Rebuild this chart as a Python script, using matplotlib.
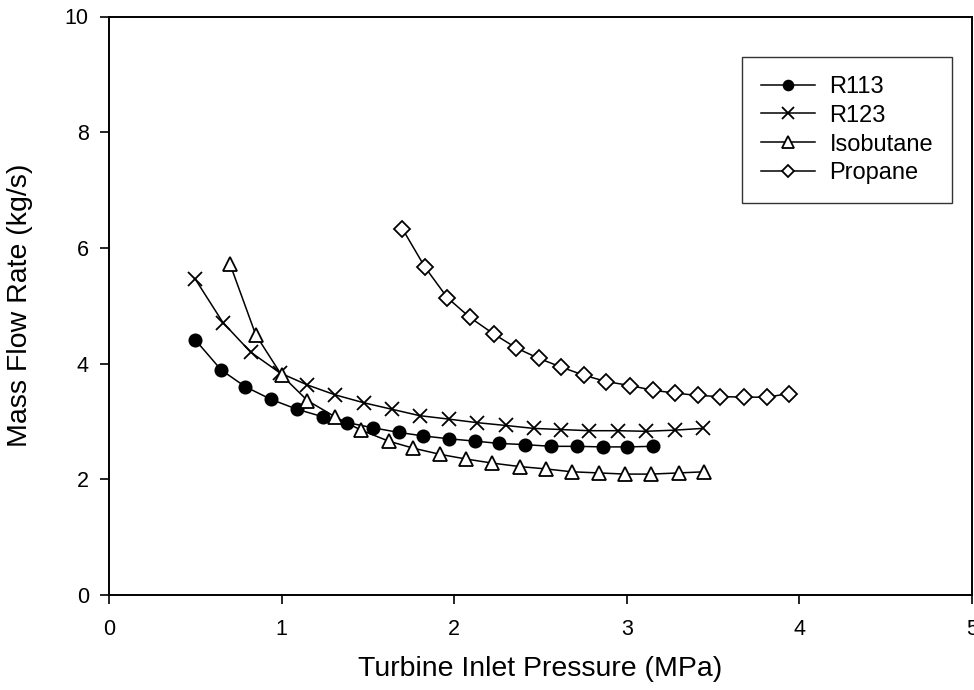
import matplotlib
matplotlib.use("Agg")
import matplotlib.pyplot as plt

# ---- data ----
r113_x = [0.50, 0.65, 0.79, 0.94, 1.09, 1.24, 1.38, 1.53, 1.68, 1.82,
          1.97, 2.12, 2.26, 2.41, 2.56, 2.71, 2.86, 3.00, 3.15]
r113_y = [4.41, 3.89, 3.60, 3.38, 3.21, 3.08, 2.98, 2.89, 2.81, 2.75,
          2.70, 2.66, 2.62, 2.60, 2.57, 2.57, 2.56, 2.56, 2.57]

r123_x = [0.50, 0.66, 0.82, 0.99, 1.15, 1.31, 1.48, 1.64, 1.80, 1.97,
          2.13, 2.30, 2.46, 2.62, 2.78, 2.95, 3.11, 3.28, 3.44]
r123_y = [5.46, 4.71, 4.20, 3.84, 3.63, 3.46, 3.32, 3.21, 3.10, 3.04,
          2.98, 2.93, 2.88, 2.86, 2.84, 2.84, 2.83, 2.85, 2.88]

iso_x = [0.70, 0.85, 1.00, 1.15, 1.31, 1.46, 1.62, 1.76, 1.92, 2.07,
         2.22, 2.38, 2.53, 2.68, 2.84, 2.99, 3.14, 3.30, 3.45]
iso_y = [5.73, 4.50, 3.80, 3.36, 3.08, 2.85, 2.66, 2.54, 2.43, 2.35,
         2.28, 2.22, 2.18, 2.13, 2.11, 2.09, 2.09, 2.11, 2.13]

prop_x = [1.70, 1.83, 1.96, 2.09, 2.23, 2.36, 2.49, 2.62, 2.75, 2.88,
          3.02, 3.15, 3.28, 3.41, 3.54, 3.68, 3.81, 3.94]
prop_y = [6.33, 5.67, 5.14, 4.80, 4.51, 4.27, 4.09, 3.94, 3.80, 3.69,
          3.62, 3.54, 3.49, 3.45, 3.43, 3.42, 3.42, 3.48]

series_labels = ["R113", "R123", "Isobutane", "Propane"]
x_ticks = [0, 1, 2, 3, 4, 5]
y_ticks = [0, 2, 4, 6, 8, 10]
x_label = "Turbine Inlet Pressure (MPa)"
y_label = "Mass Flow Rate (kg/s)"

plt.rcParams['font.family'] = ['Liberation Sans', 'DejaVu Sans']

fig = plt.figure(figsize=(9.74, 6.90), dpi=100)
ax = fig.add_axes([109 / 974, 95 / 690, (972 - 109) / 974, (595 - 16.5) / 690])

lw = 1.1
mew = 1.3
ax.plot(r113_x, r113_y, color='black', lw=lw, marker='o', ms=8.8,
        mfc='black', mec='black', mew=mew, label=series_labels[0], zorder=3)
ax.plot(r123_x, r123_y, color='black', lw=lw, marker='x', ms=10,
        mec='black', mew=mew, label=series_labels[1], zorder=3)
ax.plot(iso_x, iso_y, color='black', lw=lw, marker='^', ms=10,
        mfc='white', mec='black', mew=mew, label=series_labels[2], zorder=3)
ax.plot(prop_x, prop_y, color='black', lw=lw, marker='D', ms=7.8,
        mfc='white', mec='black', mew=mew, label=series_labels[3], zorder=3)

ax.set_xlim(0, 5)
ax.set_ylim(0, 10)
ax.set_xticks(x_ticks)
ax.set_yticks(y_ticks)
ax.tick_params(direction='out', length=6.5, width=1.2, labelsize=15.5)
ax.tick_params(axis='x', pad=11)
ax.tick_params(axis='y', pad=8)
for s in ax.spines.values():
    s.set_linewidth(1.4)
ax.set_xlabel(x_label, fontsize=20.5)
ax.set_ylabel(y_label, fontsize=20.5)
ax.xaxis.set_label_coords(0.5, -0.105)
ax.yaxis.set_label_coords(-0.088, 0.5)

leg = ax.legend(loc='upper right', bbox_to_anchor=(952 / 974, 1 - 57 / 690),
                bbox_transform=fig.transFigure, borderaxespad=0,
                fontsize=17, frameon=True, fancybox=False, edgecolor='black',
                handlelength=2.3, handletextpad=0.6, labelspacing=0.29,
                borderpad=0.8, markerscale=0.8)
leg.get_frame().set_linewidth(1.0)

fig.savefig("out.png", dpi=100)
